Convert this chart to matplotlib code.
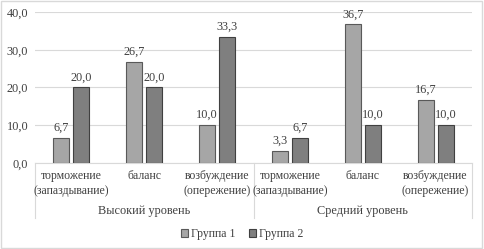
import numpy as np
import matplotlib
matplotlib.use('Agg')
import matplotlib.pyplot as plt
import matplotlib.transforms as mtransforms
from matplotlib.patches import Rectangle

plt.rcParams['font.family'] = ['Liberation Serif', 'DejaVu Serif']

# data
categories = ['торможение\n(запаздывание)', 'баланс', 'возбуждение\n(опережение)',
              'торможение\n(запаздывание)', 'баланс', 'возбуждение\n(опережение)']
groups = ['Высокий уровень', 'Средний уровень']
group1 = [6.7, 26.7, 10.0, 3.3, 36.7, 16.7]
group2 = [20.0, 20.0, 33.3, 6.7, 10.0, 10.0]
series_names = ['Группа 1', 'Группа 2']
yticks = [0, 10, 20, 30, 40]

fs = 8.8
fs_cat = 8.5
txt = '#404040'
fig = plt.figure(figsize=(4.84, 2.49), dpi=100)
ax = fig.add_axes([35/484, (249-163)/249, (472-35)/484, (163-12)/249])

x = np.arange(len(categories))
w = 0.22
off = 0.137
b1 = ax.bar(x - off, group1, w, color='#A6A6A6', edgecolor='#595959', linewidth=0.8, label=series_names[0], zorder=3)
b2 = ax.bar(x + off, group2, w, color='#7F7F7F', edgecolor='#404040', linewidth=0.8, label=series_names[1], zorder=3)

for bars, vals in ((b1, group1), (b2, group2)):
    for r, v in zip(bars, vals):
        ax.annotate(f'{v:.1f}'.replace('.', ','), (r.get_x() + r.get_width()/2, v),
                    xytext=(0, 3), textcoords='offset points', ha='center', va='bottom',
                    fontsize=fs, color=txt)

ax.set_xlim(-0.5, 5.5)
ax.set_ylim(0, 40)
ax.set_yticks(yticks)
ax.set_yticklabels([f'{t:.1f}'.replace('.', ',') for t in yticks], fontsize=fs, color=txt)
ax.tick_params(axis='y', length=0, pad=5)
ax.set_xticks([])
ax.grid(axis='y', color='#D9D9D9', linewidth=0.8, zorder=0)
for s in ['top', 'right', 'left']:
    ax.spines[s].set_visible(False)
ax.spines['bottom'].set_color('#D9D9D9')

# multi-level category axis
trans = mtransforms.blended_transform_factory(ax.transData, fig.transFigure)
for i, c in enumerate(categories):
    ax.text(i, (249-170)/249, c, transform=trans, ha='center', va='top',
            fontsize=fs_cat, color=txt, linespacing=1.35)
for j, g in enumerate(groups):
    ax.text(j*3 + 1, (249-211)/249, g, transform=trans, ha='center', va='center',
            fontsize=fs, color=txt)
for sx in [-0.5, 2.5, 5.5]:
    ax.plot([sx, sx], [(249-163)/249, (249-218)/249], transform=trans,
            color='#D9D9D9', linewidth=0.8, clip_on=False)

fig.legend(handles=[b1, b2], loc='center', bbox_to_anchor=(0.5, (249-234)/249),
           ncol=2, frameon=False, fontsize=fs_cat, handlelength=0.6, handleheight=0.6,
           handletextpad=0.2, columnspacing=1.2, labelcolor=txt)

fig.patches.append(Rectangle((0.002, 0.004), 0.994, 0.99, transform=fig.transFigure,
                             fill=False, edgecolor='#D9D9D9', linewidth=1))

fig.savefig('out.png', dpi=100)
